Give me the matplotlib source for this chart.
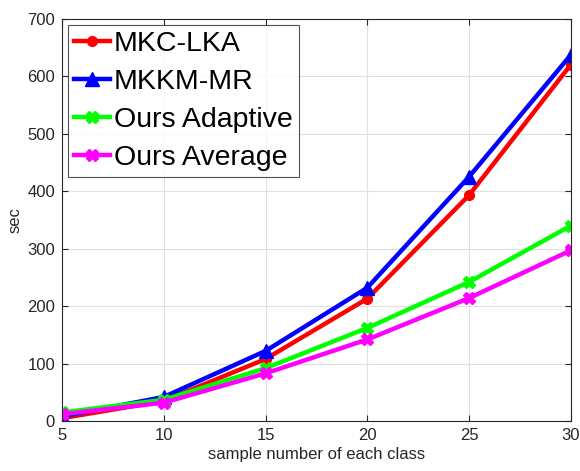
import matplotlib
matplotlib.use("Agg")
import matplotlib.pyplot as plt

plt.rcParams['font.family'] = ['Liberation Sans', 'DejaVu Sans']

x = [5, 10, 15, 20, 25, 30]
mkc_lka = [5, 35, 108, 213, 393, 620]
mkkm_mr = [8, 42, 122, 232, 425, 637]
ours_adaptive = [15, 37, 92, 162, 242, 340]
ours_average = [12, 32, 83, 142, 214, 297]
labels = ['MKC-LKA', 'MKKM-MR', 'Ours Adaptive', 'Ours Average']

fig = plt.figure(figsize=(5.8, 4.71), dpi=100)
ax = fig.add_axes([0.107, 0.106, 0.877, 0.854])

ax.plot(x, mkc_lka, color='#ff0000', lw=3.2, marker='o', ms=7, label=labels[0])
ax.plot(x, mkkm_mr, color='#0000ff', lw=3.2, marker='^', ms=10, label=labels[1])
ax.plot(x, ours_adaptive, color='#00ff00', lw=3.2, marker='X', ms=8, label=labels[2])
ax.plot(x, ours_average, color='#ff00ff', lw=3.2, marker='X', ms=8, label=labels[3])

ax.set_xlim(5, 30)
ax.set_ylim(0, 700)
ax.set_xticks([5, 10, 15, 20, 25, 30])
ax.set_yticks(range(0, 701, 100))
ax.grid(True, color='#e0e0e0', lw=0.8)
ax.set_axisbelow(True)
ax.tick_params(direction='in', colors='#262626', labelsize=12, top=True, right=True,
               length=4, pad=5)
for s in ax.spines.values():
    s.set_color('#262626')
    s.set_linewidth(0.8)
ax.set_xlabel('sample number of each class', fontsize=12, color='#262626', labelpad=3)
ax.set_ylabel('sec', fontsize=12, color='#262626', labelpad=3)

leg = ax.legend(loc='upper left', fontsize=20.5, frameon=True, fancybox=False,
                edgecolor='#262626', borderpad=0.22, handlelength=1.25,
                handletextpad=0.15, labelspacing=0.42, borderaxespad=0.2,
                bbox_to_anchor=(0.0, 1.0))
leg.get_frame().set_linewidth(0.8)

fig.savefig('out.png', dpi=100)
